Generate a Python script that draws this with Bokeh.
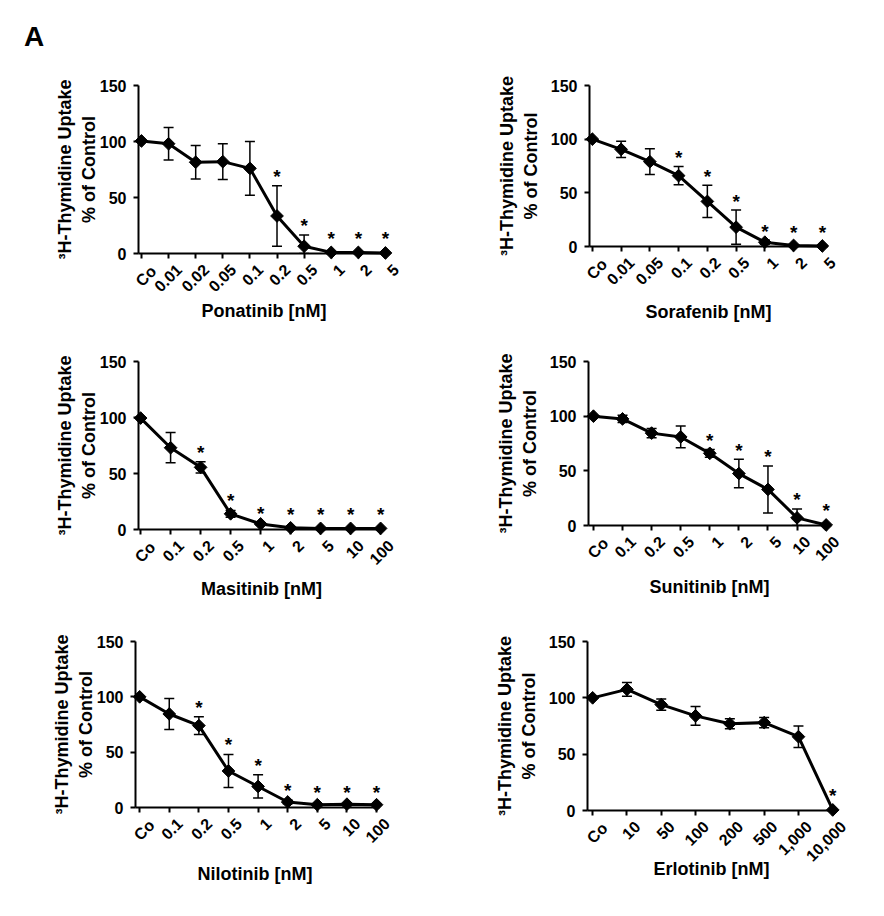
import numpy as np
from bokeh.plotting import figure
from bokeh.models import ColumnDataSource, Range1d, FixedTicker, Whisker, TeeHead, Div
from bokeh.layouts import column, row
from bokeh.embed import file_html
from bokeh.resources import INLINE
from bokeh.core.properties import value

FONT = "Liberation Sans"
Y_LABEL = "\u00b3H-Thymidine Uptake\n% of Control"
Y_TICKS = [0, 50, 100, 150]

# ---------------- data ----------------
ponatinib_labels = ["Co", "0.01", "0.02", "0.05", "0.1", "0.2", "0.5", "1", "2", "5"]
ponatinib_mean = [100.5, 98, 81.5, 82, 76, 33.5, 6.5, 1, 1, 0.5]
ponatinib_err = [0, 14.5, 15, 16, 24, 27, 10, 0, 0, 0]
ponatinib_sig = [0, 0, 0, 0, 0, 1, 1, 1, 1, 1]

sorafenib_labels = ["Co", "0.01", "0.05", "0.1", "0.2", "0.5", "1", "2", "5"]
sorafenib_mean = [100, 90.5, 79, 66, 42, 18, 4, 1, 0.5]
sorafenib_err = [0, 7.5, 12, 8.5, 15, 16, 2, 0, 0]
sorafenib_sig = [0, 0, 0, 1, 1, 1, 1, 1, 1]

masitinib_labels = ["Co", "0.1", "0.2", "0.5", "1", "2", "5", "10", "100"]
masitinib_mean = [99.5, 73, 55.5, 14, 5, 1.5, 1, 1, 1]
masitinib_err = [0, 13.5, 5, 3, 1, 0, 0, 0, 0]
masitinib_sig = [0, 0, 1, 1, 1, 1, 1, 1, 1]

sunitinib_labels = ["Co", "0.1", "0.2", "0.5", "1", "2", "5", "10", "100"]
sunitinib_mean = [100, 97.5, 84.5, 81, 66, 47.5, 33, 7, 0.5]
sunitinib_err = [0, 3.3, 4.3, 10, 3.5, 13, 21.5, 8, 0]
sunitinib_sig = [0, 0, 0, 0, 1, 1, 1, 1, 1]

nilotinib_labels = ["Co", "0.1", "0.2", "0.5", "1", "2", "5", "10", "100"]
nilotinib_mean = [100, 84.5, 74, 33, 19, 5, 2.5, 3, 2.5]
nilotinib_err = [0, 14, 8, 15, 10.5, 1.5, 0.5, 0.5, 0.5]
nilotinib_sig = [0, 0, 1, 1, 1, 1, 1, 1, 1]

erlotinib_labels = ["Co", "10", "50", "100", "200", "500", "1,000", "10,000"]
erlotinib_mean = [100, 107.5, 94, 84, 77, 78, 65.5, 0.5]
erlotinib_err = [0, 6, 5, 8.3, 4.5, 4.6, 9.6, 0]
erlotinib_sig = [0, 0, 0, 0, 0, 0, 0, 1]


def panel(labels, mean, err, sig, xlabel, left, top, fw, fh, right, bottom,
          x0, x1, xl_standoff, yl_standoff):
    n = len(labels)
    idx = list(range(n))
    p = figure(frame_width=fw, frame_height=fh,
               min_border_left=left, min_border_top=top,
               min_border_right=right, min_border_bottom=bottom,
               x_range=Range1d(x0, x1), y_range=Range1d(0, 150),
               output_backend="svg", toolbar_location=None)
    p.outline_line_color = None
    p.grid.visible = False

    p.xaxis.ticker = FixedTicker(ticks=idx)
    # tick texts are drawn below as rotated text glyphs
    p.xaxis.major_label_overrides = {i: "" for i in idx}
    p.yaxis.ticker = FixedTicker(ticks=Y_TICKS)
    for ax in (p.xaxis, p.yaxis):
        ax.axis_line_width = 2
        ax.axis_line_color = "black"
        ax.major_tick_line_width = 2
        ax.major_tick_line_color = "black"
        ax.major_tick_out = 5
        ax.major_tick_in = 0
        ax.minor_tick_line_color = None
        ax.major_label_text_font = FONT
        ax.major_label_text_font_style = "bold"
        ax.major_label_text_font_size = "16px"
        ax.major_label_text_color = "black"
        ax.axis_label_text_font = FONT
        ax.axis_label_text_font_style = "bold"
        ax.axis_label_text_font_size = "18px"
        ax.axis_label_text_color = "black"
    p.yaxis.major_label_standoff = 7
    p.yaxis.axis_label_standoff = yl_standoff
    p.xaxis.major_label_standoff = 5
    p.xaxis.axis_label_standoff = xl_standoff
    p.xaxis.axis_label = xlabel
    p.yaxis.axis_label = Y_LABEL

    # rotated category labels under the x axis
    lab_src = ColumnDataSource(dict(x=idx, y=[0] * n, t=labels))
    tl = p.text("x", "y", text="t", source=lab_src, angle=np.pi / 4,
                text_font=value(FONT), text_font_style="bold", text_font_size="16px",
                text_color="black", text_align="right", text_baseline="top",
                x_offset=6, y_offset=9)
    tl.level = "overlay"

    # error bars
    wi = [i for i in idx if err[i] > 0]
    wsrc = ColumnDataSource(dict(
        x=wi,
        upper=[mean[i] + err[i] for i in wi],
        lower=[max(mean[i] - err[i], 0) for i in wi],
    ))
    w = Whisker(source=wsrc, base="x", upper="upper", lower="lower",
                line_width=1.5, line_color="black",
                upper_head=TeeHead(size=10, line_width=1.5, line_color="black"),
                lower_head=TeeHead(size=10, line_width=1.5, line_color="black"))
    p.add_layout(w)

    src = ColumnDataSource(dict(x=idx, y=mean))
    ln = p.line("x", "y", source=src, line_width=3, line_color="black")
    ln.level = "overlay"
    sc = p.scatter("x", "y", source=src, marker="square", angle=np.pi / 4,
                   size=9, fill_color="black", line_color="black")
    sc.level = "overlay"

    si = [i for i in idx if sig[i]]
    star_src = ColumnDataSource(dict(
        x=si,
        y=[max(mean[i] + err[i] + 13, 18) for i in si],
        t=["*"] * len(si),
    ))
    st = p.text("x", "y", text="t", source=star_src, text_font=value(FONT),
                text_font_style="bold", text_font_size="19px", text_color="black",
                text_align="center", text_baseline="middle", y_offset=5)
    st.level = "overlay"
    return p


p1 = panel(ponatinib_labels, ponatinib_mean, ponatinib_err, ponatinib_sig, "Ponatinib [nM]",
           138, 22, 251, 168, 45, 82, -0.11, 9.15, 42, -2)
p2 = panel(sorafenib_labels, sorafenib_mean, sorafenib_err, sorafenib_sig, "Sorafenib [nM]",
           155, 29, 238, 161, 41, 82, -0.10, 8.18, 50, 7)
p3 = panel(masitinib_labels, masitinib_mean, masitinib_err, masitinib_sig, "Masitinib [nM]",
           138, 30, 246, 168, 50, 78, -0.07, 8.13, 44, -2)
p4 = panel(sunitinib_labels, sunitinib_mean, sunitinib_err, sunitinib_sig, "Sunitinib [nM]",
           154, 33, 242, 164, 38, 79, -0.17, 8.15, 46, 7)
p5 = panel(nilotinib_labels, nilotinib_mean, nilotinib_err, nilotinib_sig, "Nilotinib  [nM]",
           135, 37, 244, 166, 55, 93, -0.14, 8.10, 51, -2)
p6 = panel(erlotinib_labels, erlotinib_mean, erlotinib_err, erlotinib_sig, "Erlotinib [nM]",
           153, 34, 248, 169, 33, 93, -0.15, 7.08, 43, 7)

panel_letter = Div(text="A", width=100, height=56, margin=(0, 0, 0, 0),
                   styles={"font-family": FONT, "font-weight": "bold", "font-size": "28px",
                           "line-height": "28px", "padding-top": "23px",
                           "padding-left": "24px", "color": "black"})

layout = column(panel_letter, row(p1, p2), row(p3, p4), row(p5, p6))

with open("out.html", "w") as f:
    f.write(file_html(layout, INLINE))
